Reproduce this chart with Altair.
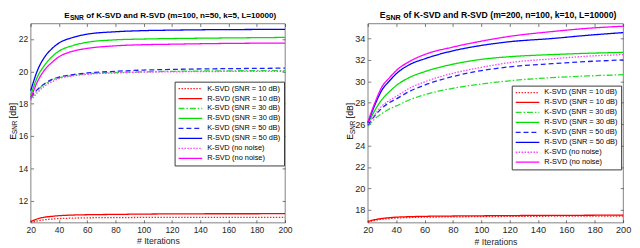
import altair as alt
import pandas as pd

FONT = "Liberation Sans"

ITERS = [20, 25, 30, 35, 40, 50, 60, 80, 100, 120, 150, 175, 200]
SERIES = ["K-SVD (SNR = 10 dB)", "R-SVD (SNR = 10 dB)",
          "K-SVD (SNR = 30 dB)", "R-SVD (SNR = 30 dB)",
          "K-SVD (SNR = 50 dB)", "R-SVD (SNR = 50 dB)",
          "K-SVD (no noise)", "R-SVD (no noise)"]
COLORS = ["#ff2020", "#ff0000", "#22e022", "#00e000",
          "#2020ff", "#0000ff", "#ff40ff", "#ff00ff"]
DASHES = [[1.5, 1.5], [1, 0], [6, 2, 1.5, 2], [1, 0],
          [5, 3], [1, 0], [1.5, 1.5], [1, 0]]

X_TICKS = [20, 40, 60, 80, 100, 120, 140, 160, 180, 200]

# Left panel (m=100, n=50, k=5)
L_K10 = [10.65, 10.75, 10.82, 10.86, 10.89, 10.92, 10.94, 10.95, 10.96, 10.96, 10.97, 10.97, 10.97]
L_R10 = [10.70, 10.88, 10.98, 11.03, 11.07, 11.11, 11.13, 11.15, 11.17, 11.18, 11.19, 11.19, 11.20]
L_K30 = [18.30, 18.85, 19.20, 19.45, 19.60, 19.75, 19.85, 19.93, 19.97, 20.00, 20.03, 20.04, 20.05]
L_R30 = [18.50, 19.70, 20.40, 20.90, 21.25, 21.60, 21.80, 21.95, 22.00, 22.03, 22.06, 22.08, 22.10]
L_K50 = [18.40, 18.90, 19.25, 19.50, 19.65, 19.80, 19.90, 20.00, 20.08, 20.12, 20.16, 20.18, 20.20]
L_R50 = [18.80, 20.10, 20.90, 21.40, 21.75, 22.10, 22.30, 22.45, 22.52, 22.55, 22.58, 22.59, 22.60]
L_KNN = [18.20, 18.70, 19.10, 19.35, 19.55, 19.72, 19.82, 19.90, 19.95, 19.97, 19.99, 20.00, 20.00]
L_RNN = [18.30, 19.40, 20.10, 20.55, 20.90, 21.25, 21.42, 21.58, 21.65, 21.68, 21.72, 21.74, 21.75]
L_YTICKS = [12, 14, 16, 18, 20, 22]
L_YDOM = [10.64, 22.96]

# Right panel (m=200, n=100, k=10)
R_K10 = [16.85, 17.02, 17.12, 17.18, 17.23, 17.28, 17.31, 17.34, 17.36, 17.38, 17.40, 17.41, 17.42]
R_R10 = [16.90, 17.08, 17.19, 17.26, 17.31, 17.36, 17.39, 17.42, 17.44, 17.46, 17.48, 17.49, 17.50]
R_K30 = [25.80, 26.50, 27.00, 27.40, 27.70, 28.30, 28.75, 29.35, 29.75, 30.05, 30.35, 30.50, 30.62]
R_R30 = [26.00, 27.30, 28.30, 29.00, 29.60, 30.40, 30.90, 31.60, 32.05, 32.30, 32.50, 32.62, 32.70]
R_K50 = [25.90, 26.80, 27.50, 28.00, 28.35, 29.10, 29.65, 30.45, 31.00, 31.35, 31.65, 31.85, 32.00]
R_R50 = [26.10, 27.80, 29.20, 30.00, 30.70, 31.60, 32.10, 32.85, 33.35, 33.70, 34.00, 34.30, 34.55]
R_KNN = [26.00, 26.90, 27.70, 28.20, 28.60, 29.40, 29.95, 30.75, 31.30, 31.75, 32.10, 32.35, 32.50]
R_RNN = [26.20, 28.00, 29.50, 30.30, 31.00, 31.90, 32.50, 33.20, 33.75, 34.20, 34.65, 34.95, 35.15]
R_YTICKS = [18, 20, 22, 24, 26, 28, 30, 32, 34]
R_YDOM = [16.8, 35.4]

L_TITLE = "of K-SVD and R-SVD (m=100, n=50, k=5, L=10000)"
R_TITLE = "of K-SVD and R-SVD (m=200, n=100, k=10, L=10000)"

W_L, W_R, H = 258, 259, 202
AX = "#262626"


def text_layer(s, x, y, size, bold=False, angle=0, baseline="alphabetic"):
    return alt.Chart(pd.DataFrame({"t": [s]})).mark_text(
        align="left", baseline=baseline, font=FONT, fontSize=size,
        fontWeight="bold" if bold else "normal", angle=angle, color="#000"
    ).encode(text="t:N", x=alt.value(x), y=alt.value(y))


def panel(values, ydom, yticks, width, title_rest, tfs, tick_fs, title_x, leg_x, leg_y):
    rows = []
    for name, vals in zip(SERIES, values):
        for it, v in zip(ITERS, vals):
            rows.append({"series": name, "it": it, "val": v})
    df = pd.DataFrame(rows)
    xscale = alt.Scale(domain=[20, 200], nice=False, zero=False)
    yscale = alt.Scale(domain=ydom, nice=False, zero=False)
    leg = alt.Legend(
        title=None, orient="none", legendX=leg_x, legendY=leg_y,
        symbolType="stroke", symbolSize=576, symbolStrokeWidth=1.3,
        labelFont=FONT, labelFontSize=7.5, labelColor="#000", labelOffset=4,
        labelLimit=300, fillColor="white", strokeColor="#3a3a3a",
        padding=3, rowPadding=2.1, clipHeight=8, cornerRadius=0,
    )
    xax = alt.Axis(values=X_TICKS, title="# Iterations", offset=-3, tickSize=3,
                   domain=False, grid=False, labelPadding=3, labelFont=FONT,
                   labelFontSize=tick_fs, labelColor=AX, tickColor=AX, tickWidth=0.6,
                   titleFont=FONT, titleFontSize=8.8, titleFontWeight="normal",
                   titleColor=AX, titlePadding=3, labelFlush=False)
    yax = alt.Axis(values=yticks, title=None, offset=-3, tickSize=3,
                   domain=False, grid=False, labelPadding=3, labelFont=FONT,
                   labelFontSize=tick_fs, labelColor=AX, tickColor=AX, tickWidth=0.6)
    lines = alt.Chart(df).mark_line(strokeWidth=1.3, interpolate="monotone").encode(
        x=alt.X("it:Q", scale=xscale, axis=xax),
        y=alt.Y("val:Q", scale=yscale, axis=yax),
        color=alt.Color("series:N", scale=alt.Scale(domain=SERIES, range=COLORS),
                        sort=SERIES, legend=leg),
        strokeDash=alt.StrokeDash("series:N", scale=alt.Scale(domain=SERIES, range=DASHES),
                                  sort=SERIES, legend=leg),
        order=alt.Order("it:Q"),
    )
    xax2 = alt.Axis(values=X_TICKS, orient="top", title=None, labels=False, offset=-3,
                    tickSize=3, domain=False, grid=False, tickColor=AX, tickWidth=0.6)
    yax2 = alt.Axis(values=yticks, orient="right", title=None, labels=False, offset=-3,
                    tickSize=3, domain=False, grid=False, tickColor=AX, tickWidth=0.6)
    ghost = alt.Chart(df).mark_point(opacity=0).encode(
        x=alt.X("it:Q", scale=xscale, axis=xax2),
        y=alt.Y("val:Q", scale=yscale, axis=yax2),
    )
    sub = tfs * 0.82
    ew = 0.667 * tfs
    sw = 2.111 * sub
    texts = [
        text_layer("E", title_x, -6, tfs, bold=True),
        text_layer("SNR", title_x + ew + 0.3, -3.5, sub, bold=True),
        text_layer(title_rest, title_x + ew + sw + 2.8, -6, tfs, bold=True),
        # rotated y-axis title: E_SNR [dB]
        text_layer("E", -18, H / 2 + 17, 8.8, angle=270, baseline="middle"),
        text_layer("SNR", -15.5, H / 2 + 17 - 6, 6.4, angle=270, baseline="middle"),
        text_layer("[dB]", -18, H / 2 + 17 - 6 - 13.5 - 2.5, 8.8, angle=270, baseline="middle"),
    ]
    return alt.layer(lines, ghost, *texts).resolve_axis(
        x="independent", y="independent"
    ).properties(width=width, height=H)


left = panel([L_K10, L_R10, L_K30, L_R30, L_K50, L_R50, L_KNN, L_RNN],
             L_YDOM, L_YTICKS, W_L, L_TITLE, 8.2, 8.6, 34, 146, 59)
right = panel([R_K10, R_R10, R_K30, R_R30, R_K50, R_R50, R_KNN, R_RNN],
              R_YDOM, R_YTICKS, W_R, R_TITLE, 8.8, 9.3, 12, 146, 63)

chart = alt.hconcat(left, right, spacing=53).resolve_scale(
    color="independent", strokeDash="independent"
).resolve_legend(
    color="independent", strokeDash="independent"
).properties(
    padding={"left": 0, "top": 0, "right": 0, "bottom": 0},
    background="white",
).configure_view(stroke="#4a4a4a", strokeWidth=0.7)

chart.save("out.html", embed_options={"renderer": "svg", "actions": False})
